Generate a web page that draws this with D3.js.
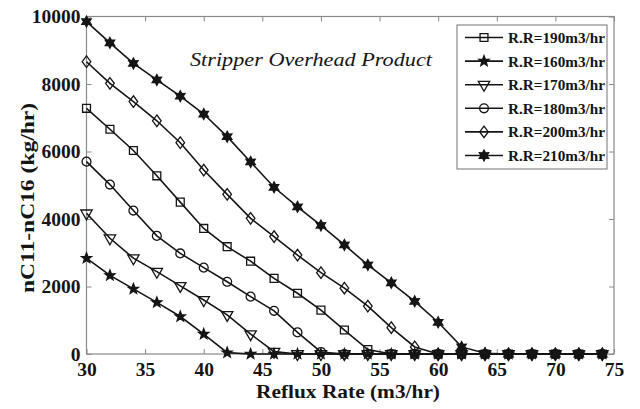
<!DOCTYPE html>
<html>
<head>
<meta charset="utf-8">
<script src="https://cdn.jsdelivr.net/npm/d3@7/dist/d3.min.js"></script>
</head>
<body style="margin:0">
<svg id="chart" width="640" height="409"></svg>
<script>
// Reflux rate (m3/hr) at which each case was evaluated
const refluxRate = [30, 32, 34, 36, 38, 40, 42, 44, 46, 48, 50, 52, 54, 56, 58, 60, 62, 64, 66, 68, 70, 72, 74];

// nC11-nC16 in stripper overhead product (kg/hr), one array per R.R case
const rr190 = [7280, 6660, 6030, 5280, 4500, 3720, 3180, 2750, 2240, 1800, 1300, 710, 130, 0, 0, 0, 0, 0, 0, 0, 0, 0, 0];
const rr160 = [2840, 2330, 1930, 1530, 1110, 590, 40, 0, 0, 0, 0, 0, 0, 0, 0, 0, 0, 0, 0, 0, 0, 0, 0];
const rr170 = [4170, 3430, 2840, 2440, 2020, 1600, 1160, 590, 70, 0, 0, 0, 0, 0, 0, 0, 0, 0, 0, 0, 0, 0, 0];
const rr180 = [5700, 5020, 4250, 3500, 2980, 2560, 2140, 1700, 1280, 640, 60, 0, 0, 0, 0, 0, 0, 0, 0, 0, 0, 0, 0];
const rr200 = [8660, 8020, 7480, 6910, 6260, 5450, 4730, 4020, 3480, 2930, 2410, 1950, 1420, 780, 210, 0, 0, 0, 0, 0, 0, 0, 0];
const rr210 = [9850, 9220, 8610, 8120, 7640, 7110, 6440, 5690, 4940, 4360, 3810, 3230, 2640, 2110, 1560, 940, 210, 20, 0, 0, 0, 0, 0];

const seriesNames = ["R.R=190m3/hr", "R.R=160m3/hr", "R.R=170m3/hr", "R.R=180m3/hr", "R.R=200m3/hr", "R.R=210m3/hr"];
const seriesValues = [rr190, rr160, rr170, rr180, rr200, rr210];
const seriesMarkers = ["square", "pentagram", "triangleDown", "circle", "diamond", "hexagram"];

const xTicks = [30, 35, 40, 45, 50, 55, 60, 65, 70, 75];
const yTicks = [0, 2000, 4000, 6000, 8000, 10000];

const titleText = "Stripper Overhead Product";
const xTitle = "Reflux Rate (m3/hr)";
const yTitle = "nC11-nC16 (kg/hr)";

const fontFam = "'Liberation Serif'";
const ink = "#151515";
const axisColor = "#8a8a8a";

const svg = d3.select("#chart").attr("font-family", "Liberation Serif");
const L = 86.5, R = 614, T = 16.5, B = 354;

const x = d3.scaleLinear().domain([30, 75]).range([L, R]);
const y = d3.scaleLinear().domain([0, 10000]).range([B, T]);

// set serif typeface and size on a text selection
function serifText(sel, size, weight, italic) {
  sel.style("font-family", fontFam)
    .style("font-size", size + "px")
    .style("font-weight", weight || "normal")
    .style("font-style", italic ? "italic" : "normal")
    .attr("fill", ink);
}

// box with inward ticks on all four sides
const g = svg.append("g");
g.append("rect").attr("x", L).attr("y", T).attr("width", R - L).attr("height", B - T)
  .attr("fill", "none").attr("stroke", axisColor).attr("stroke-width", 1.2);

const bottomAxis = d3.axisBottom(x).tickValues(xTicks).tickSize(-5).tickPadding(8).tickFormat(d3.format("d"));
const topAxis = d3.axisTop(x).tickValues(xTicks).tickSize(-5).tickFormat("");
const leftAxis = d3.axisLeft(y).tickValues(yTicks).tickSize(-5).tickPadding(6).tickFormat(d3.format("d"));
const rightAxis = d3.axisRight(y).tickValues(yTicks).tickSize(-5).tickFormat("");

function styleAxis(sel) {
  sel.attr("font-family", "Liberation Serif");
  sel.select(".domain").remove();
  sel.selectAll(".tick line").attr("stroke", axisColor).attr("stroke-width", 1);
  sel.selectAll(".tick text").call(serifText, 19.5, "bold");
}
g.append("g").attr("transform", `translate(0,${B})`).call(bottomAxis).call(styleAxis)
  .selectAll(".tick text").attr("dy", "0.74em");
g.append("g").attr("transform", `translate(0,${T})`).call(topAxis).call(styleAxis);
g.append("g").attr("transform", `translate(${L},0)`).call(leftAxis).call(styleAxis);
g.append("g").attr("transform", `translate(${R},0)`).call(rightAxis).call(styleAxis);

// marker shapes
function starPath(points, inner) {
  return {
    draw(ctx, size) {
      const r = Math.sqrt(size) / 2 * 1.25;
      const ri = r * inner;
      for (let i = 0; i < points * 2; i++) {
        const a = Math.PI / points * i - Math.PI / 2;
        const rr = i % 2 === 0 ? r : ri;
        const px = rr * Math.cos(a), py = rr * Math.sin(a);
        if (i === 0) ctx.moveTo(px, py); else ctx.lineTo(px, py);
      }
      ctx.closePath();
    }
  };
}
const sym = {
  square: d3.symbol().type(d3.symbolSquare).size(62),
  circle: d3.symbol().type(d3.symbolCircle).size(62),
  diamond: d3.symbol().type({
    draw(ctx) {
      const w = 4.3, h = 5.8;
      ctx.moveTo(0, -h); ctx.lineTo(w, 0); ctx.lineTo(0, h); ctx.lineTo(-w, 0); ctx.closePath();
    }
  }),
  pentagram: d3.symbol().type(starPath(5, 0.42)).size(74),
  triangleDown: d3.symbol().type(d3.symbolTriangle).size(56),
  hexagram: d3.symbol().type(starPath(6, 0.55)).size(74)
};

function markerAttrs(sel, kind) {
  const filled = kind === "pentagram" || kind === "hexagram";
  sel.attr("d", sym[kind]())
    .attr("fill", filled ? ink : "none")
    .attr("stroke", ink)
    .attr("stroke-width", 1.3)
    .attr("transform", function () {
      const t = d3.select(this).attr("data-t");
      return (t || "") + (kind === "triangleDown" ? " rotate(180)" : "");
    });
}

const line = d3.line().x(d => x(d[0])).y(d => y(d[1]));

seriesValues.forEach((vals, i) => {
  const pts = refluxRate.map((r, j) => [r, vals[j]]);
  const sg = g.append("g");
  sg.append("path").datum(pts).attr("d", line)
    .attr("fill", "none").attr("stroke", ink).attr("stroke-width", 1.6);
  sg.selectAll("path.m").data(pts).enter().append("path").attr("class", "m")
    .attr("data-t", d => `translate(${x(d[0])},${y(d[1])})`)
    .call(markerAttrs, seriesMarkers[i]);
});

// title inside plot
svg.append("text").attr("x", 190).attr("y", 66)
  .call(serifText, 19.5, "normal", true)
  .attr("textLength", 242).attr("lengthAdjust", "spacingAndGlyphs").text(titleText);

// axis titles
svg.append("text").attr("x", 348).attr("y", 398).attr("text-anchor", "middle")
  .call(serifText, 19, "bold")
  .attr("textLength", 184).attr("lengthAdjust", "spacingAndGlyphs").text(xTitle);
svg.append("text").attr("transform", "translate(34,198) rotate(-90)").attr("text-anchor", "middle")
  .call(serifText, 19, "bold")
  .attr("textLength", 190).attr("lengthAdjust", "spacingAndGlyphs").text(yTitle);

// legend
const lg = svg.append("g");
const lx = 457, ly = 25, lw = 150, lh = 144;
lg.append("rect").attr("x", lx).attr("y", ly).attr("width", lw).attr("height", lh)
  .attr("fill", "#fff").attr("stroke", axisColor).attr("stroke-width", 1.2);
seriesNames.forEach((name, i) => {
  const cy = 37.5 + i * 23.6;
  lg.append("line").attr("x1", 465).attr("x2", 503).attr("y1", cy).attr("y2", cy)
    .attr("stroke", ink).attr("stroke-width", 1.6);
  lg.append("path").attr("data-t", `translate(484,${cy})`).call(markerAttrs, seriesMarkers[i]);
  lg.append("text").attr("x", 508).attr("y", cy + 5.5)
    .call(serifText, 15.5, "bold")
    .attr("textLength", 97).attr("lengthAdjust", "spacingAndGlyphs").text(name);
});
</script>
</body>
</html>
